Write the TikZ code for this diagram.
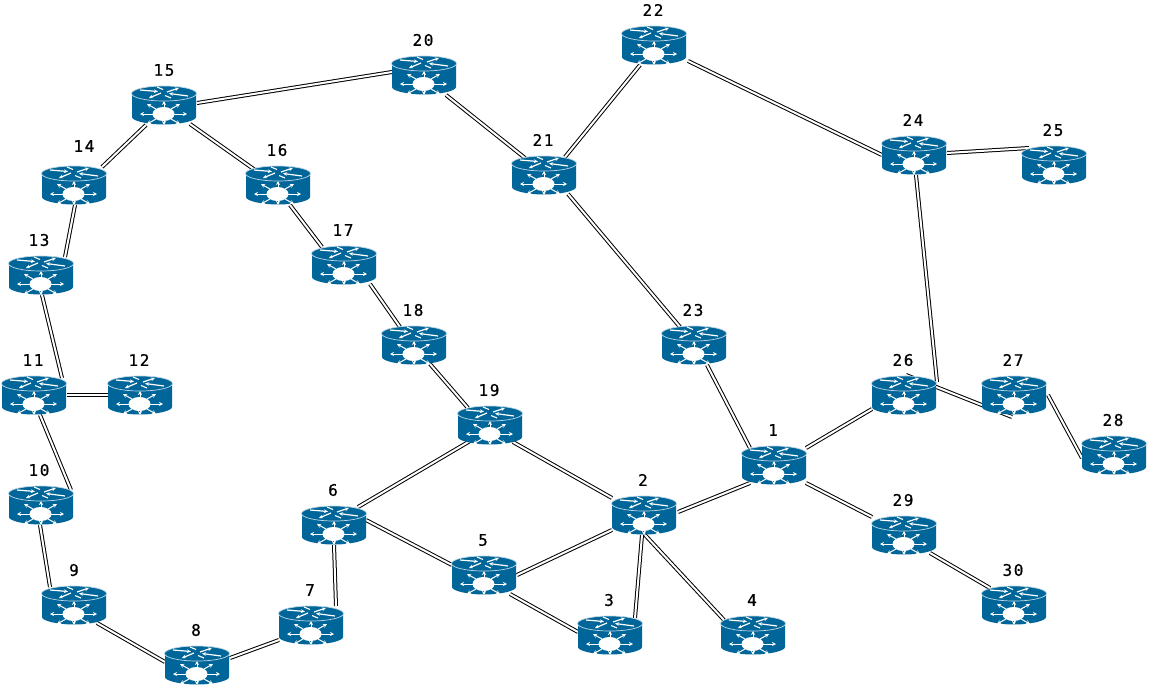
\documentclass[tikz,border=0pt]{standalone}
\usepackage{fontspec}
\newfontfamily\lblfont[LetterSpace=10,FakeBold=0.6]{DejaVu Sans Mono}
\newfontfamily\lblfontheavy[LetterSpace=10,FakeBold=1.6]{DejaVu Sans Mono}
\definecolor{routerblue}{RGB}{0,102,153}
\usetikzlibrary{arrows.meta}
\tikzset{
  x=1pt,y=-1pt,
  routerbase/.style={inner sep=0pt,minimum width=64pt,minimum height=38pt},
  numlabel/.style={inner sep=0pt,font=\lblfont\fontsize{16}{16}\selectfont,text=black},
  heavylabel/.style={inner sep=0pt,font=\lblfontheavy\fontsize{16}{16}\selectfont,text=black},
  link/.style={draw=black,line width=1pt,double=white,double distance=2pt},
  spoke/.style={draw=white,line width=1pt,-{Stealth[length=4pt,width=4pt]}},
  flat/.style={draw=white,line width=1.2pt,-{Stealth[length=4pt,width=3.6pt]}},
  pics/routerart/.style={code={
    \fill[routerblue] (-32,-11) -- (-32,12) .. controls (-32,16) and (-16,19.5) .. (0,19.5)
       .. controls (16,19.5) and (32,16) .. (32,12) -- (32,-11) -- cycle;
    \fill[routerblue,draw=white!75!routerblue,line width=0.7pt] (0,-11.5) ellipse [x radius=32.5,y radius=7.5];
    \fill[white] (-0.5,9) ellipse [x radius=11,y radius=7];
    \foreach \a/\b/\c/\d in {-11/9/-24/9, 10/9/23/9, 0/3/0/-4, 0/15/0/20,
        -8/4/-17/-1, 7/4/16/-1, -8/14/-17/19, 7/14/16/19}
      {\draw[spoke] (\a,\b) -- (\c,\d);}
    \draw[flat] (-24,-15) -- (-6,-13.5);
    \draw[flat] (-3,-12) -- (-15,-7);
    \draw[flat] (24,-9) -- (5,-11.5);
    \draw[flat] (3,-13) -- (15,-17);
    \draw[white,line width=1.1pt] (-7,-18) -- (-1,-15.5);
    \draw[white,line width=1.1pt] (7,-7) -- (1,-9.5);
  }}
}
\newcommand{\conn}[4]{\draw[link] ([shift={(#2)}]r#1.center) -- ([shift={(#4)}]r#3.center);}
\begin{document}
\begin{tikzpicture}
\useasboundingbox (0,0) rectangle (1149,686);
\foreach \n/\x/\y in {1/774/465,2/644/515,3/610/635,4/753/635,5/484/575,6/334/525,7/311/625,8/197/665,
  9/74/605,10/41/505,11/34/395,12/140/395,13/41/275,14/74/185,15/164/105,16/278/185,17/344/265,
  18/414/345,19/490/425,20/424/75,21/544/175,22/654/45,23/694/345,24/914/155,25/1054/165,26/904/395,
  27/1014/395,28/1114/455,29/904/535,30/1014/605}
  {\node[routerbase] (r\n) at (\x,\y) {};}
\conn{1}{-24,18}{2}{34,-3}
\conn{1}{-24,-17}{23}{13,20}
\conn{1}{32,-17}{26}{-32,14}
\conn{1}{32,18}{29}{-32,-18}
\conn{2}{-32,-17}{19}{23,17}
\conn{2}{-32,15}{5}{33,0}
\conn{2}{-2,20}{3}{25,-17}
\conn{2}{1,20}{4}{-29,-15}
\conn{3}{-32,-3}{5}{26,19}
\conn{5}{-32,-10}{6}{32,-5}
\conn{6}{24,-18}{19}{-20,16}
\conn{6}{0,20}{7}{25,-19}
\conn{7}{-32,15}{8}{33,-7}
\conn{8}{-32,-3}{9}{23,18}
\conn{9}{-24,-18}{10}{-1,20}
\conn{10}{30,-15}{11}{6,20}
\conn{11}{33,0}{12}{-32,0}
\conn{11}{28,-17}{13}{1,20}
\conn{13}{24,-18}{14}{1,20}
\conn{14}{28,-18}{15}{-18,20}
\conn{15}{26,19}{16}{-23,-15}
\conn{15}{33,-2}{20}{-32,-3}
\conn{16}{12,20}{17}{-22,-18}
\conn{17}{26,19}{18}{-14,-18}
\conn{18}{16,19}{19}{-22,-17}
\conn{20}{22,20}{21}{-19,-17}
\conn{21}{21,-18}{22}{-14,20}
\conn{21}{24,19}{23}{-14,-18}
\conn{22}{34,16}{24}{-32,0}
\conn{24}{33,-2}{25}{-25,-17}
\conn{24}{2,20}{26}{33,-13}
\conn{26}{2,-20}{27}{-2,22}
\conn{27}{34,0}{28}{-32,3}
\conn{29}{26,18}{30}{-24,-17}
\foreach \n in {1,...,30}
  {\path (r\n.center) pic {routerart};}
\foreach \n/\x/\y in {1/773/430,2/643/480,3/609/600,4/752/600,5/483/540,6/333/490,7/310/590,8/196/630,
  9/74/570,10/39/470,11/33/360,12/139/360,13/39/240,15/164/70,16/277/150,17/343/230,
  18/413/310,19/489/390,20/423/40,21/543/140,22/653/10,23/693/310,24/913/120,25/1053/130,26/903/360,
  27/1013/360,28/1113/420,29/903/500,30/1013/570}
  {\node[numlabel] (l\n) at (\x,\y) {\n};}
\node[heavylabel] (l14) at (84,146) {14};
\end{tikzpicture}
\end{document}
